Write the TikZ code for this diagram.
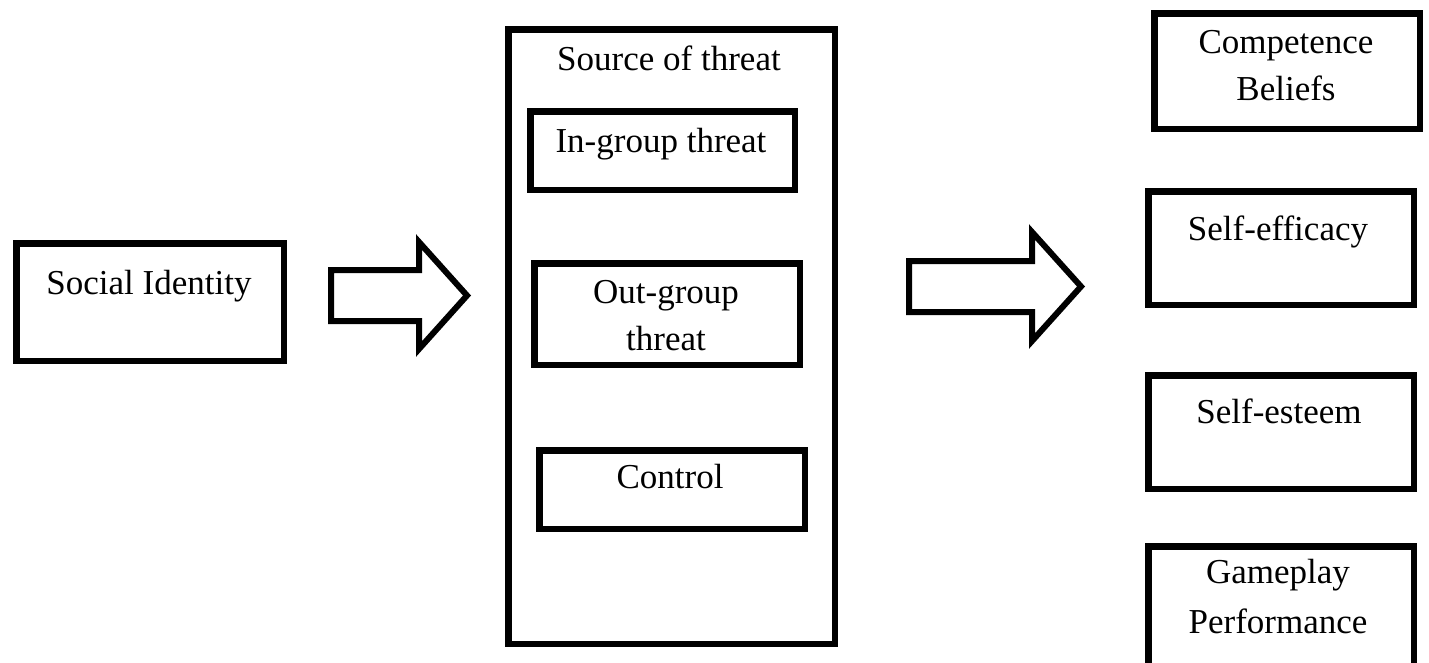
\documentclass[tikz,border=0pt]{standalone}
\usepackage{fontspec}
\setmainfont{Liberation Serif}
\begin{document}
\begin{tikzpicture}[x=1pt,y=-1pt,
  box/.style={draw,line width=6.5pt,inner sep=0pt},
  lbl/.style={font=\fontsize{35}{47}\selectfont,inner sep=0pt,anchor=base,align=center},
  blockarrow/.style={draw,line width=6pt,line join=miter}]
\clip (0,0) rectangle (1429,662);
\fill[white] (0,0) rectangle (1429,662);
% boxes
\node[box,minimum width=267.5pt,minimum height=117.5pt] (si) at (150,302) {};
\node[box,minimum width=326.5pt,minimum height=614.5pt] (src) at (671.5,336.5) {};
\node[box,minimum width=264.5pt,minimum height=78.5pt] (ing) at (662.5,150.5) {};
\node[box,minimum width=265.5pt,minimum height=101.5pt] (outg) at (667,314) {};
\node[box,minimum width=265.5pt,minimum height=78.5pt] (ctrl) at (672,489.5) {};
\node[box,minimum width=265.5pt,minimum height=115.5pt] (cb) at (1287,71) {};
\node[box,minimum width=265.5pt,minimum height=113.5pt] (se) at (1281,248) {};
\node[box,minimum width=265.5pt,minimum height=113.5pt] (est) at (1281,432) {};
\node[box,minimum width=265.5pt,minimum height=120.5pt] (gp) at (1281,606.5) {};
% texts (anchor=base: baseline of the last line)
\node[lbl] (siT) at (149,294) {Social Identity};
\node[lbl] (srcT) at (669,70) {Source of threat};
\node[lbl] (ingT) at (661,152) {In-group threat};
\node[lbl] (outgT) at (666,350) {Out-group\\threat};
\node[lbl] (ctrlT) at (670,488) {Control};
\node[lbl] (cbT) at (1286,100) {Competence\\Beliefs};
\node[lbl] (seT) at (1278,240) {Self-efficacy};
\node[lbl] (estT) at (1279,423) {Self-esteem};
\node[lbl,font=\fontsize{35}{50}\selectfont] (gpT) at (1278,633) {Gameplay\\Performance};
% block arrows
\draw[blockarrow] (331,270) -- (419,270) -- (419,242) -- (467,295.5) -- (419,349) -- (419,321) -- (331,321) -- cycle;
\draw[blockarrow] (909,261) -- (1032,261) -- (1032,232) -- (1081,286.5) -- (1032,341) -- (1032,312) -- (909,312) -- cycle;
\end{tikzpicture}
\end{document}
